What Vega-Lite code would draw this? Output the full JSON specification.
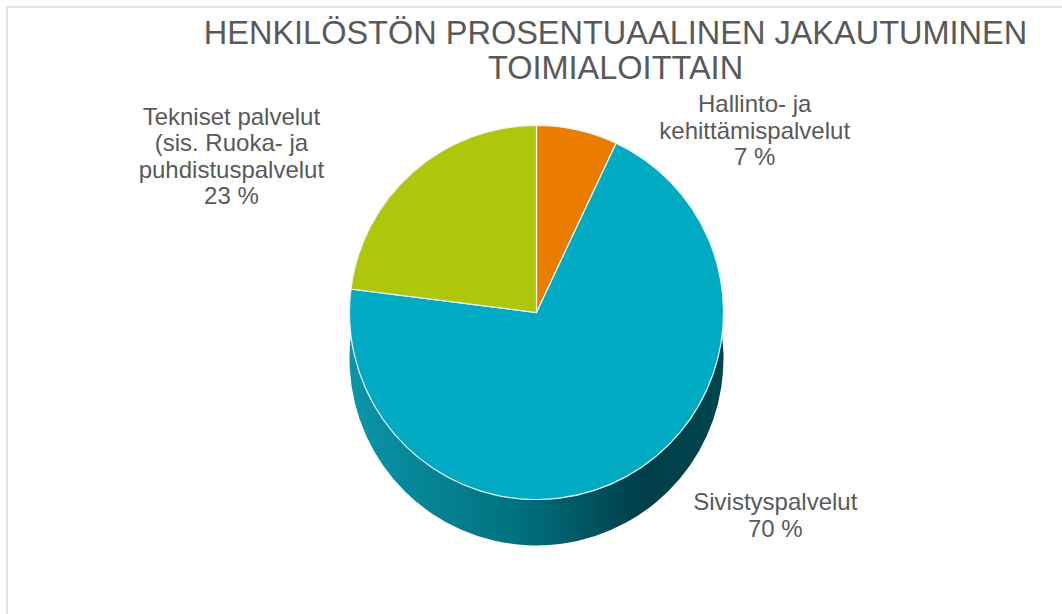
{
  "$schema": "https://vega.github.io/schema/vega-lite/v6.json",
  "width": 1062,
  "height": 614,
  "autosize": {"type": "fit", "contains": "padding"},
  "padding": {"left": 7, "top": 7, "right": -4, "bottom": -4},
  "background": "white",
  "view": {"stroke": "#d9d9d9", "strokeWidth": 1.5},
  "title": {
    "text": ["HENKILÖSTÖN PROSENTUAALINEN JAKAUTUMINEN", "TOIMIALOITTAIN"],
    "font": "Liberation Sans",
    "fontSize": 32.5,
    "fontWeight": "normal",
    "color": "#595959",
    "lineHeight": 35,
    "offset": -78,
    "dx": 79,
    "anchor": "middle"
  },
  "config": {"view": {"stroke": "#d9d9d9", "strokeWidth": 1.5}},
  "data": {
    "values": [
      {"toimiala": "Hallinto- ja kehittämispalvelut", "osuus": 7, "label": "Hallinto- ja\nkehittämispalvelut\n7 %"},
      {"toimiala": "Sivistyspalvelut", "osuus": 70, "label": "Sivistyspalvelut\n70 %"},
      {"toimiala": "Tekniset palvelut (sis. Ruoka- ja puhdistuspalvelut)", "osuus": 23, "label": "Tekniset palvelut\n(sis. Ruoka- ja\npuhdistuspalvelut\n23 %"}
    ]
  },
  "layer": [
    {
      "mark": {
        "type": "arc",
        "outerRadius": 187,
        "yOffset": 46,
        "color": {
          "gradient": "linear",
          "x1": 0, "x2": 1, "y1": 0, "y2": 0,
          "stops": [
            {"offset": 0, "color": "#0b95a8"},
            {"offset": 0.45, "color": "#00717f"},
            {"offset": 0.78, "color": "#003f4a"},
            {"offset": 1, "color": "#00454f"}
          ]
        }
      },
      "encoding": {"theta": {"field": "osuus", "type": "quantitative", "stack": true}}
    },
    {
      "mark": {"type": "arc", "outerRadius": 187, "stroke": "#e6f6f8", "strokeWidth": 1.2},
      "encoding": {
        "theta": {"field": "osuus", "type": "quantitative", "stack": true},
        "color": {
          "field": "toimiala",
          "type": "nominal",
          "scale": {
            "domain": ["Hallinto- ja kehittämispalvelut", "Sivistyspalvelut", "Tekniset palvelut (sis. Ruoka- ja puhdistuspalvelut)"],
            "range": ["#EA7D00", "#00AAC2", "#AFC70B"]
          },
          "legend": null
        }
      }
    },
    {
      "mark": {"type": "text", "radius": 230, "dx": 168, "dy": 17, "font": "Liberation Sans", "fontSize": 24, "lineHeight": 26.5, "lineBreak": "\n", "color": "#595959", "align": "center", "baseline": "middle"},
      "encoding": {
        "theta": {"field": "osuus", "type": "quantitative", "stack": true},
        "text": {"condition": {"test": "datum.toimiala === 'Hallinto- ja kehittämispalvelut'", "field": "label"}, "value": ""}
      }
    },
    {
      "mark": {"type": "text", "radius": 230, "dx": 128, "dy": -11, "font": "Liberation Sans", "fontSize": 24, "lineHeight": 26.5, "lineBreak": "\n", "color": "#595959", "align": "center", "baseline": "middle"},
      "encoding": {
        "theta": {"field": "osuus", "type": "quantitative", "stack": true},
        "text": {"condition": {"test": "datum.toimiala === 'Sivistyspalvelut'", "field": "label"}, "value": ""}
      }
    },
    {
      "mark": {"type": "text", "radius": 230, "dx": -153, "dy": -22, "font": "Liberation Sans", "fontSize": 24, "lineHeight": 26.5, "lineBreak": "\n", "color": "#595959", "align": "center", "baseline": "middle"},
      "encoding": {
        "theta": {"field": "osuus", "type": "quantitative", "stack": true},
        "text": {"condition": {"test": "datum.toimiala === 'Tekniset palvelut (sis. Ruoka- ja puhdistuspalvelut)'", "field": "label"}, "value": ""}
      }
    }
  ]
}
